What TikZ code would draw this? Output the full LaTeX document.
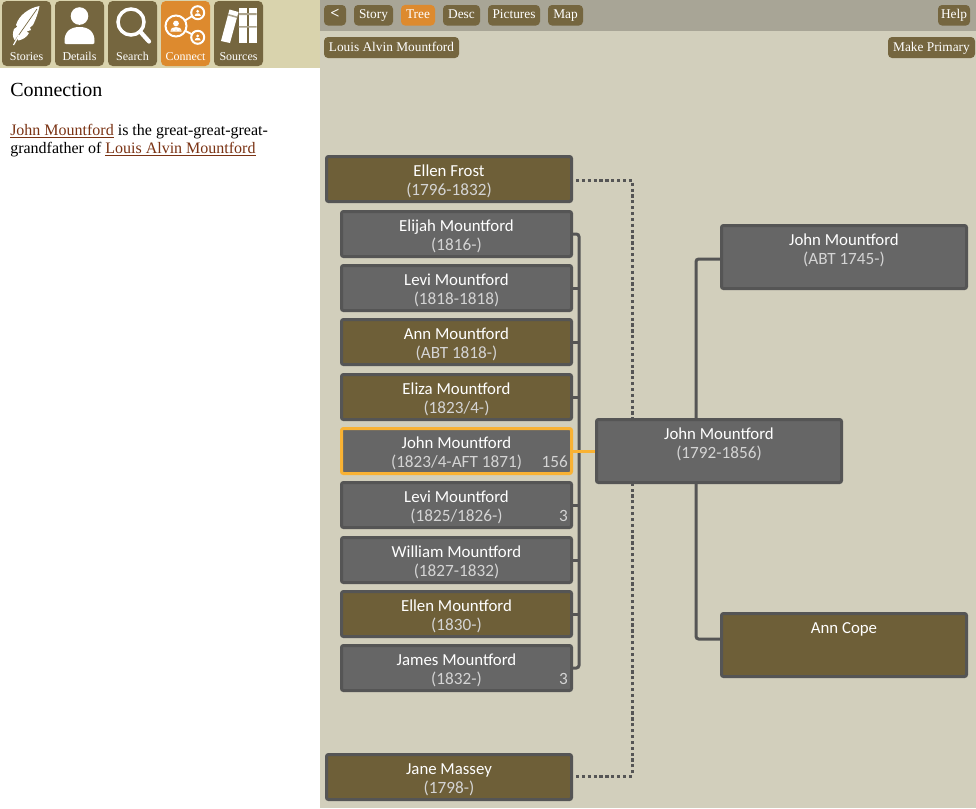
\documentclass[tikz,border=0pt]{standalone}
\usepackage{fontspec}
\setmainfont{Liberation Serif}
\newfontfamily\boxfont{Carlito}
\definecolor{pagebg}{HTML}{D2CFBC}
\definecolor{headbg}{HTML}{D9D3AD}
\definecolor{barbg}{HTML}{A8A596}
\definecolor{btn}{HTML}{75663F}
\definecolor{btnon}{HTML}{DD8A2E}
\definecolor{edgec}{HTML}{555555}
\definecolor{grayp}{HTML}{666666}
\definecolor{brownp}{HTML}{6E5F38}
\definecolor{hilite}{HTML}{F9B233}
\definecolor{linkc}{HTML}{7A3213}
\definecolor{datec}{HTML}{D4D4D4}
\tikzset{
 x=0.75pt,y=-0.75pt,
 navbtn/.style={fill=btn,rounded corners=3pt,inner sep=0pt,text=white,text height=6.8pt,text depth=1.2pt,font=\fontsize{10}{11}\selectfont},
 iconbtn/.style={fill=btn,rounded corners=3.5pt,inner sep=0pt},
 icontext/.style={text=white,anchor=base,font=\fontsize{9}{10}\selectfont,inner sep=0pt},
 person/.style={draw=edgec,line width=2.25pt,rounded corners=1.5pt,inner sep=0pt},
 pname/.style={text=white,anchor=base,inner sep=0pt,font=\boxfont\fontsize{12.6}{14}\selectfont},
 pdate/.style={text=datec,anchor=base,inner sep=0pt,font=\boxfont\fontsize{12.9}{14}\selectfont},
 pcount/.style={text=datec,inner sep=0pt,anchor=base east,font=\boxfont\fontsize{12.9}{14}\selectfont},
 kin/.style={draw=edgec,line width=2.25pt,rounded corners=2pt},
 spouse/.style={draw=edgec,line width=2.25pt,dash pattern=on 2.4pt off 2pt},
}
% id, x0, y0, x1, y1, fill, name, dates
\newcommand{\personbox}[8]{%
 \node[person,fill=#6,minimum width=#4*0.75pt-#2*0.75pt-2.25pt,minimum height=#5*0.75pt-#3*0.75pt-2.25pt] (#1) at ({(#2+#4)/2},{(#3+#5)/2}) {};
 \node[pname] (#1-n) at ({(#2+#4)/2},#3+21) {#7};
 \node[pdate] (#1-d) at ({(#2+#4)/2},#3+40) {#8};
}
\newcommand{\navb}[6]{% id x0 x1 y0 y1 text
 \node[navbtn,minimum width=#3*0.75pt-#2*0.75pt,minimum height=#5*0.75pt-#4*0.75pt] (#1) at ({(#2+#3)/2},{(#4+#5)/2}) {#6};
}
% small person icon: centre x y, scale
\newcommand{\minifig}[3]{%
 \fill[white] (#1,#2-0.28*#3) circle (0.32*#3);
 \fill[white] (#1-0.62*#3,#2+0.62*#3) .. controls (#1-0.6*#3,#2+0.2*#3) and (#1-0.3*#3,#2+0.12*#3) .. (#1,#2+0.12*#3) .. controls (#1+0.3*#3,#2+0.12*#3) and (#1+0.6*#3,#2+0.2*#3) .. (#1+0.62*#3,#2+0.62*#3) -- cycle;
}
\begin{document}
\begin{tikzpicture}
\useasboundingbox (0,0) rectangle (976,808);
\fill[white] (0,0) rectangle (320,808);
\fill[headbg] (0,0) rectangle (320,68);
\fill[pagebg] (320,0) rectangle (976,808);
\fill[barbg] (320,0) rectangle (976,31);
% icon buttons
\foreach \id/\a/\b/\c/\t in {stories/2/51/btn/Stories,details/55/104/btn/Details,search/108/157/btn/Search,connect/161/210/btnon/Connect,sources/214/263/btn/Sources}{
 \node[iconbtn,fill=\c,minimum width=\b*0.75pt-\a*0.75pt,minimum height=48.75pt] (\id) at ({(\a+\b)/2},33.5) {};
 \node[icontext] (\id-t) at ({(\a+\b)/2},60) {\t};
}
% feather
\fill[white] (39.5,6) .. controls (29,8) and (19,15) .. (16,25) -- (17.5,26.5) -- (14,29) .. controls (12.5,33) and (12.5,37) .. (14.5,40) -- (17,38.5) -- (18.5,40.5) .. controls (23,39.5) and (27,37) .. (29,33) -- (26.5,31.5) -- (31,30) -- (30,27.5) -- (33,25) .. controls (36,19) and (38.5,12) .. (39.5,6) -- cycle;
\draw[btn,line width=0.5pt] (16,39) -- (37,9);
\draw[white,line width=0.9pt] (13.5,45) -- (19,35);
% person
\fill[white] (79.5,16) circle (8.8);
\fill[white] (66,44) .. controls (64.5,44) and (64.5,43) .. (64.5,41) .. controls (64.5,32) and (70,27) .. (79.5,27) .. controls (89,27) and (94.5,32) .. (94.5,41) .. controls (94.5,43) and (94.5,44) .. (93,44) -- cycle;
% magnifier
\draw[white,line width=2.6pt] (131,22) circle (13);
\draw[white,line width=3.2pt,line cap=round] (140.5,32) -- (149,41.5);
% connect
\draw[white,line width=1.4pt] (176,26) -- (197.7,12.7) (176,26) -- (197.7,37.3);
\draw[white,line width=1.5pt,fill=btnon] (176,26) circle (10.5);
\draw[white,line width=1.5pt,fill=btnon] (197.7,12.7) circle (6.5);
\draw[white,line width=1.5pt,fill=btnon] (197.7,37.3) circle (6.5);
\minifig{176}{26}{9}
\minifig{197.7}{12.7}{5}
\minifig{197.7}{37.3}{5}
\fill[btnon] (172,30) circle (0.5) (176,30) circle (0.5) (180,30) circle (0.5);
% books
\fill[white] (221,41) -- (229.5,9.5) -- (238.5,12) -- (230,43) -- cycle;
\fill[white] (238.5,8) rectangle (247,43);
\fill[white] (248.5,8) rectangle (256.5,43);
\fill[btn!60!white] (238.5,13) rectangle (256.5,15) (238.5,26) rectangle (256.5,27.5);
\fill[btn!60!white] (228.4,14) -- (237.4,16.5) -- (237,18) -- (228,15.5) -- cycle;
% left text
\node[anchor=base west,inner sep=0pt,font=\fontsize{15}{18}\selectfont] (title) at (10,96) {Connection};
\node[anchor=base west,inner sep=0pt,font=\fontsize{12}{14}\selectfont] (l1) at (10,135) {\textcolor{linkc}{\underline{John Mountford}} is the great-great-great-};
\node[anchor=base west,inner sep=0pt,font=\fontsize{12}{14}\selectfont] (l2) at (10,153) {grandfather of \textcolor{linkc}{\underline{Louis Alvin Mountford}}};
% nav buttons
\navb{back}{324}{346}{5}{25.5}{\textbf{\fontsize{12}{12}\selectfont <}}
\navb{story}{354}{393}{5}{25.5}{Story}
\node[navbtn,fill=btnon,minimum width=25.5pt,minimum height=15.4pt] (tree) at (418,15.25) {Tree};
\navb{desc}{443}{480}{5}{25.5}{Desc}
\navb{pictures}{488}{540}{5}{25.5}{Pictures}
\navb{map}{548}{583}{5}{25.5}{Map}
\navb{help}{938}{970}{5}{25.5}{Help}
\navb{primary}{324}{459}{37}{58}{Louis Alvin Mountford}
\navb{make}{888}{975}{37}{58}{Make Primary}
% connector bends
\coordinate (trunkTop) at (579,234);
\coordinate (trunkBot) at (579,668);
\coordinate (spT) at (632,180);
\coordinate (spB) at (632,776);
\coordinate (faC) at (696,259);
\coordinate (moC) at (696,639);
\personbox{ellen}{325}{155}{573}{203}{brownp}{Ellen Frost}{(1796-1832)}
\personbox{jane}{325}{753}{573}{801}{brownp}{Jane Massey}{(1798-)}
\personbox{c1}{340}{210}{573}{258}{grayp}{Elijah Mountford}{(1816-)}
\personbox{c2}{340}{264}{573}{312}{grayp}{Levi Mountford}{(1818-1818)}
\personbox{c3}{340}{318}{573}{366}{brownp}{Ann Mountford}{(ABT 1818-)}
\personbox{c4}{340}{373}{573}{421}{brownp}{Eliza Mountford}{(1823/4-)}
\personbox{c6}{340}{481}{573}{529}{grayp}{Levi Mountford}{(1825/1826-)}
\personbox{c7}{340}{536}{573}{584}{grayp}{William Mountford}{(1827-1832)}
\personbox{c8}{340}{590}{573}{638}{brownp}{Ellen Mountford}{(1830-)}
\personbox{c9}{340}{644}{573}{692}{grayp}{James Mountford}{(1832-)}
\personbox{father}{720}{224}{968}{290}{grayp}{John Mountford}{(ABT 1745-)}
\personbox{mother}{720}{612}{968}{678}{brownp}{Ann Cope}{}
\personbox{parent}{595}{418}{843}{484}{grayp}{John Mountford}{(1792-1856)}
\node[person,draw=hilite,fill=grayp,minimum width=172.5pt,minimum height=33.75pt] (sel) at (456.5,451) {};
\node[pname] (sel-n) at (456.5,448) {John Mountford};
\node[pdate] (sel-d) at (456.5,467) {(1823/4-AFT 1871)};
\node[pcount] (n156) at (568,467) {156};
\node[pcount] (n3a) at (568,521) {3};
\node[pcount] (n3b) at (568,684) {3};
% connectors
\draw[kin] (c1.east) -- (trunkTop) -- (trunkBot) -- (c9.east);
\foreach \c in {c2,c3,c4,c6,c7,c8}{
 \draw[kin,rounded corners=0pt] (\c.east) -- (trunkTop |- \c.east);
}
\draw[hilite,line width=2.25pt] (sel.east) -- (parent.west |- sel.east);
\draw[kin] (parent.north -| faC) -- (faC) -- (father.west |- faC);
\draw[kin] (parent.south -| moC) -- (moC) -- (mother.west |- moC);
\draw[spouse] (ellen.east) ++(3,1) -- (spT) -- (parent.north -| spT);
\draw[spouse] (jane.east) ++(3,-1) -- (spB) -- (parent.south -| spB);
\end{tikzpicture}
\end{document}
